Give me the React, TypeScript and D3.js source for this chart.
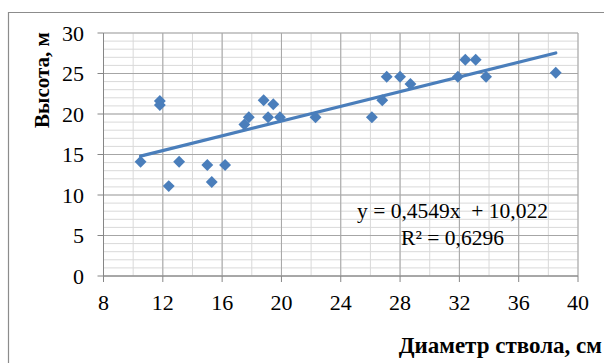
import React from "react";
import * as d3 from "d3";

const diameters = [10.5, 11.8, 11.8, 12.4, 13.1, 15.0, 15.3, 16.2, 17.5, 17.8, 18.8, 19.1, 19.45, 19.9, 22.3, 26.1, 26.8, 27.1, 28.0, 28.7, 31.9, 32.4, 33.1, 33.8, 38.5];
const heights = [14.1, 21.6, 21.1, 11.1, 14.1, 13.7, 11.6, 13.7, 18.7, 19.6, 21.7, 19.6, 21.2, 19.6, 19.6, 19.6, 21.7, 24.6, 24.6, 23.7, 24.6, 26.7, 26.7, 24.6, 25.1];
const xTicks = [8, 12, 16, 20, 24, 28, 32, 36, 40];
const yTicks = [0, 5, 10, 15, 20, 25, 30];
const slope = 0.4549;
const intercept = 10.022;
const eqLabel = "y = 0,4549x  + 10,022";
const r2Label = "R² = 0,6296";
const xTitle = "Диаметр ствола, см";
const yTitle = "Высота, м";

export default function App() {
  const W = 604, H = 363;
  const x = d3.scaleLinear().domain([8, 40]).range([103.5, 578]);
  const y = d3.scaleLinear().domain([0, 30]).range([276, 33]);
  const blue = "#4a7ebb";
  const font = "'Liberation Serif', 'Times New Roman', serif";
  const minorX = d3.range(8, 41, 2);
  const minorY = d3.range(0, 31, 1);
  const xMin = d3.min(diameters) as number;
  const xMax = d3.max(diameters) as number;
  const trend = d3.line<number>().x((d) => x(d)).y((d) => y(slope * d + intercept));
  const diamond = d3.symbol().type(d3.symbolDiamond2).size(90)() as string;

  return (
    <svg width={W} height={H} style={{ position: "absolute", left: 0, top: 0, background: "#fff" }} fontFamily={font}>
      <rect x={0} y={0} width={W} height={H} fill="#fff" />
      <path d={`M8.5,${H} V12.5 H${W}`} fill="none" stroke="#8c8c8c" strokeWidth={1.2} />
      {minorY.map((v) => (
        <line key={"my" + v} x1={x(8)} x2={x(40)} y1={y(v)} y2={y(v)} stroke="#d9d9d9" strokeWidth={1} />
      ))}
      {minorX.map((v) => (
        <line key={"mx" + v} x1={x(v)} x2={x(v)} y1={y(0)} y2={y(30)} stroke="#d9d9d9" strokeWidth={1} />
      ))}
      {yTicks.map((v) => (
        <line key={"gy" + v} x1={x(8)} x2={x(40)} y1={y(v)} y2={y(v)} stroke="#a6a6a6" strokeWidth={1} />
      ))}
      {xTicks.map((v) => (
        <line key={"gx" + v} x1={x(v)} x2={x(v)} y1={y(0)} y2={y(30)} stroke="#a6a6a6" strokeWidth={1} />
      ))}
      <line x1={x(8)} x2={x(8)} y1={y(0)} y2={y(30)} stroke="#868686" strokeWidth={1} />
      <line x1={x(8)} x2={x(40)} y1={y(0)} y2={y(0)} stroke="#868686" strokeWidth={1} />
      {yTicks.map((v) => (
        <g key={"ty" + v}>
          <line x1={x(8) - 6} x2={x(8)} y1={y(v)} y2={y(v)} stroke="#868686" />
          <text x={84} y={y(v) + 7.5} textAnchor="end" fontSize={22} fill="#000">{v}</text>
        </g>
      ))}
      {xTicks.map((v) => (
        <g key={"tx" + v}>
          <line x1={x(v)} x2={x(v)} y1={y(0)} y2={y(0) + 6} stroke="#868686" />
          <text x={x(v)} y={310} textAnchor="middle" fontSize={22} fill="#000">{v}</text>
        </g>
      ))}
      <path d={trend([xMin, xMax]) as string} fill="none" stroke={blue} strokeWidth={3.2} strokeLinecap="round" />
      {diameters.map((d, i) => (
        <path key={"p" + i} d={diamond} transform={`translate(${x(d)},${y(heights[i])})`} fill={blue} />
      ))}
      <text x={452.5} y={218} textAnchor="middle" fontSize={21.5} fill="#000" xmlSpace="preserve" style={{ whiteSpace: "pre" }}>{eqLabel}</text>
      <text x={452.5} y={245} textAnchor="middle" fontSize={21.5} fill="#000">{r2Label}</text>
      <text x={602} y={353} textAnchor="end" fontSize={23} fontWeight="bold" fill="#000">{xTitle}</text>
      <text transform="translate(49,80) rotate(-90)" textAnchor="middle" fontSize={21} fontWeight="bold" fill="#000">{yTitle}</text>
    </svg>
  );
}
